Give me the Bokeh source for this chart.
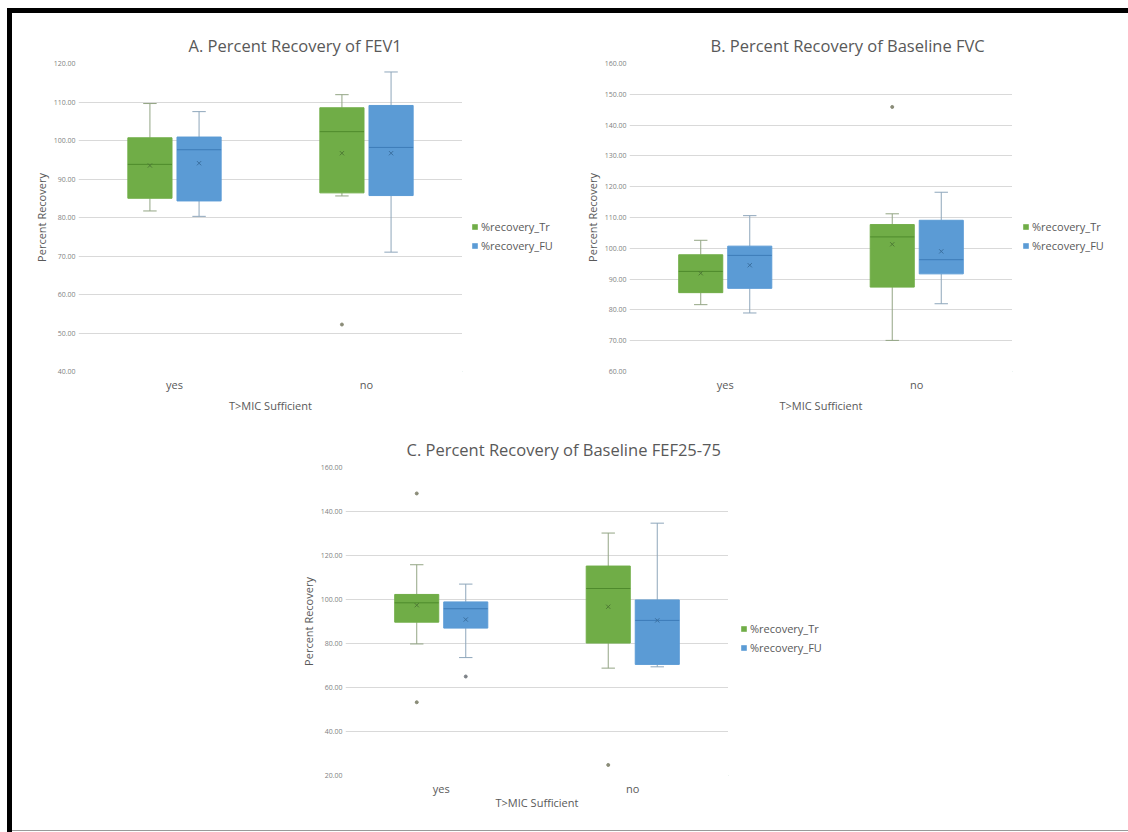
from bokeh.plotting import figure
from bokeh.models import (Range1d, FactorRange, FixedTicker, NumeralTickFormatter,
                          ColumnDataSource, Legend, LegendItem, Div, Spacer)
from bokeh.layouts import column, row
from bokeh.embed import file_html
from bokeh.resources import INLINE

# ---------------- data ----------------
categories = ["yes", "no"]
series_names = ["%recovery_Tr", "%recovery_FU"]
x_axis_title = "T>MIC Sufficient"
y_axis_title = "Percent Recovery"

# Panel A: FEV1
a_title = "A. Percent Recovery of FEV1"
a_ticks = [40, 50, 60, 70, 80, 90, 100, 110, 120]
a_tr_min = [81.7, 85.6]
a_tr_q1 = [85.0, 86.4]
a_tr_med = [93.8, 102.3]
a_tr_q3 = [100.7, 108.5]
a_tr_max = [109.6, 111.9]
a_tr_mean = [93.5, 96.7]
a_tr_out_cat = ["no"]
a_tr_out_val = [52.2]
a_fu_min = [80.3, 71.0]
a_fu_q1 = [84.3, 85.7]
a_fu_med = [97.6, 98.2]
a_fu_q3 = [100.9, 109.1]
a_fu_max = [107.5, 117.8]
a_fu_mean = [94.1, 96.7]
a_fu_out_cat = []
a_fu_out_val = []

# Panel B: FVC
b_title = "B. Percent Recovery of Baseline FVC"
b_ticks = [60, 70, 80, 90, 100, 110, 120, 130, 140, 150, 160]
b_tr_min = [81.7, 70.1]
b_tr_q1 = [85.6, 87.4]
b_tr_med = [92.5, 103.7]
b_tr_q3 = [97.9, 107.7]
b_tr_max = [102.6, 111.2]
b_tr_mean = [91.9, 101.3]
b_tr_out_cat = ["no"]
b_tr_out_val = [145.9]
b_fu_min = [79.0, 82.0]
b_fu_q1 = [87.0, 91.7]
b_fu_med = [97.7, 96.3]
b_fu_q3 = [100.7, 109.1]
b_fu_max = [110.6, 118.2]
b_fu_mean = [94.5, 99.0]
b_fu_out_cat = []
b_fu_out_val = []

# Panel C: FEF25-75
c_title = "C. Percent Recovery of Baseline FEF25-75"
c_ticks = [20, 40, 60, 80, 100, 120, 140, 160]
c_tr_min = [79.8, 68.8]
c_tr_q1 = [89.7, 80.2]
c_tr_med = [98.5, 105.0]
c_tr_q3 = [102.3, 115.2]
c_tr_max = [115.8, 130.2]
c_tr_mean = [97.4, 96.7]
c_tr_out_cat = ["yes", "yes", "no"]
c_tr_out_val = [148.2, 53.3, 24.8]
c_fu_min = [73.6, 69.4]
c_fu_q1 = [87.0, 70.5]
c_fu_med = [95.8, 90.5]
c_fu_q3 = [98.9, 99.8]
c_fu_max = [107.0, 134.7]
c_fu_mean = [90.9, 90.5]
c_fu_out_cat = ["yes"]
c_fu_out_val = [65.0]

# ---------------- style ----------------
FONT = "Open Sans"
TXT = "#595959"
GRID = "#d9d9d9"
STYLE = {
    "Tr": dict(fill="#70AD47", whisk="#93a584", med="#4e8a2c", mean="#4e7a35", out="#8a8c78", off=-0.128),
    "FU": dict(fill="#5B9BD5", whisk="#8ea6bb", med="#3d7cb8", mean="#3a6f9f", out="#7c8186", off=0.128),
}
BOX_W = 0.23
CAP_HALF = 0.035
FRAME_H = 308


def draw_series(p, key, mn, q1, med, q3, mx, mean, out_cat, out_val):
    st = STYLE[key]
    off = st["off"]
    xc = [(c, off) for c in categories]
    xl = [(c, off - BOX_W / 2) for c in categories]
    xr = [(c, off + BOX_W / 2) for c in categories]
    cl = [(c, off - CAP_HALF) for c in categories]
    cr = [(c, off + CAP_HALF) for c in categories]
    src = ColumnDataSource(dict(x=xc, xl=xl, xr=xr, cl=cl, cr=cr, mn=mn, q1=q1,
                                med=med, q3=q3, mx=mx, mean=mean))
    p.segment(x0="x", x1="x", y0="q3", y1="mx", source=src, line_color=st["whisk"], line_width=1)
    p.segment(x0="x", x1="x", y0="mn", y1="q1", source=src, line_color=st["whisk"], line_width=1)
    p.segment(x0="cl", x1="cr", y0="mx", y1="mx", source=src, line_color=st["whisk"], line_width=1)
    p.segment(x0="cl", x1="cr", y0="mn", y1="mn", source=src, line_color=st["whisk"], line_width=1)
    p.vbar(x="x", top="q3", bottom="q1", width=BOX_W, source=src,
           fill_color=st["fill"], line_color=st["fill"], line_width=1)
    p.segment(x0="xl", x1="xr", y0="med", y1="med", source=src, line_color=st["med"], line_width=1)
    p.scatter(x="x", y="mean", source=src, marker="x", size=6, line_color=st["mean"], line_width=1)
    if out_val:
        osrc = ColumnDataSource(dict(x=[(c, off) for c in out_cat], y=out_val))
        p.scatter(x="x", y="y", source=osrc, marker="circle", size=3,
                  fill_color=st["out"], line_color=st["out"])


def make_panel(title, title_offset, y0, y1, ticks, tr, fu, left, frame_w, top, bottom,
               xlabel_standoff):
    p = figure(x_range=FactorRange(*categories), y_range=Range1d(y0, y1),
               width=left + frame_w, height=top + FRAME_H + bottom,
               min_border_left=left, min_border_right=0,
               min_border_top=top, min_border_bottom=bottom,
               output_backend="svg", toolbar_location=None, outline_line_color=None,
               background_fill_color="white", border_fill_color="white")
    p.title.text = title
    p.title.align = "left"
    p.title.offset = title_offset
    p.title.standoff = 14
    p.title.text_font = FONT
    p.title.text_font_size = "16.5px"
    p.title.text_font_style = "normal"
    p.title.text_color = TXT

    p.xgrid.grid_line_color = None
    p.ygrid.grid_line_color = GRID
    p.ygrid.ticker = FixedTicker(ticks=ticks)

    ya = p.yaxis[0]
    ya.ticker = FixedTicker(ticks=ticks)
    ya.formatter = NumeralTickFormatter(format="0.00")
    ya.axis_label = y_axis_title
    ya.axis_label_text_font = FONT
    ya.axis_label_text_font_size = "11px"
    ya.axis_label_text_font_style = "normal"
    ya.axis_label_text_color = TXT
    ya.axis_label_standoff = 2
    ya.major_label_text_font = FONT
    ya.major_label_text_font_size = "7px"
    ya.major_label_text_color = "#7f7f7f"
    ya.major_label_standoff = 3
    ya.major_tick_out = 0
    ya.major_tick_in = 0
    ya.axis_line_color = None
    ya.major_tick_line_color = None
    ya.minor_tick_line_color = None

    xa = p.xaxis[0]
    xa.axis_label = x_axis_title
    xa.axis_label_text_font = FONT
    xa.axis_label_text_font_size = "11px"
    xa.axis_label_text_font_style = "normal"
    xa.axis_label_text_color = TXT
    xa.axis_label_standoff = xlabel_standoff
    xa.major_label_text_font = FONT
    xa.major_label_text_font_size = "11px"
    xa.major_label_text_color = TXT
    xa.major_label_standoff = 5
    xa.major_tick_out = 0
    xa.major_tick_in = 0
    xa.axis_line_color = None
    xa.major_tick_line_color = None
    xa.minor_tick_line_color = None

    draw_series(p, "Tr", *tr)
    draw_series(p, "FU", *fu)
    return p


def make_legend(width, height, leg_x, leg_y):
    # a narrow companion plot that only carries the legend (frame aligned with the panel)
    lf = figure(width=width, height=height, x_range=Range1d(0, 1), y_range=Range1d(0, 1),
                min_border=0, x_axis_location=None, y_axis_location=None,
                output_backend="svg", toolbar_location=None, outline_line_color=None,
                background_fill_color="white", border_fill_color="white")
    lf.xgrid.visible = False
    lf.ygrid.visible = False
    renderers = []
    for key in ("Tr", "FU"):
        # legend proxy: an empty-area bar placed outside the visible range
        proxy = ColumnDataSource(dict(x=[-5.0], top=[-5.0], bottom=[-5.0]))
        renderers.append(lf.vbar(x="x", top="top", bottom="bottom", width=0.0, source=proxy,
                                 fill_color=STYLE[key]["fill"], line_color=None))
    legend = Legend(items=[LegendItem(label=series_names[0], renderers=[renderers[0]]),
                           LegendItem(label=series_names[1], renderers=[renderers[1]])],
                    location=(leg_x, leg_y), orientation="vertical",
                    glyph_width=7, glyph_height=7, label_height=14, label_standoff=3,
                    spacing=4, padding=0, margin=0, border_line_color=None,
                    background_fill_alpha=0,
                    label_text_font=FONT, label_text_font_size="11px",
                    label_text_color=TXT)
    lf.add_layout(legend)
    return lf


pA = make_panel(a_title, 110, 40, 120, a_ticks,
                (a_tr_min, a_tr_q1, a_tr_med, a_tr_q3, a_tr_max, a_tr_mean, a_tr_out_cat, a_tr_out_val),
                (a_fu_min, a_fu_q1, a_fu_med, a_fu_q3, a_fu_max, a_fu_mean, a_fu_out_cat, a_fu_out_val),
                66, 384, 50, 49, 3)
lA = make_legend(98, 407, 9, 118)
pB = make_panel(b_title, 81, 60, 160, b_ticks,
                (b_tr_min, b_tr_q1, b_tr_med, b_tr_q3, b_tr_max, b_tr_mean, b_tr_out_cat, b_tr_out_val),
                (b_fu_min, b_fu_q1, b_fu_med, b_fu_q3, b_fu_max, b_fu_mean, b_fu_out_cat, b_fu_out_val),
                69, 383, 50, 49, 3)
lB = make_legend(116, 407, 10, 118)
pC = make_panel(c_title, 61, 20, 160, c_ticks,
                (c_tr_min, c_tr_q1, c_tr_med, c_tr_q3, c_tr_max, c_tr_mean, c_tr_out_cat, c_tr_out_val),
                (c_fu_min, c_fu_q1, c_fu_med, c_fu_q3, c_fu_max, c_fu_mean, c_fu_out_cat, c_fu_out_val),
                66, 383, 47, 55, -4)
lC = make_legend(132, 410, 12, 120)

top_bar = Div(width=1121, height=5, margin=0, styles={"background-color": "black"})
left_bar = Div(width=5, height=819, margin=0, styles={"background-color": "black"})
bottom_line = Div(width=1116, height=1, margin=0, styles={"background-color": "#9a9a9a"})

content = column(row(pA, lA, pB, lB), row(Spacer(width=267, height=10), pC, lC), bottom_line)
page = column(Spacer(width=10, height=8),
              row(Spacer(width=7, height=5), top_bar),
              row(Spacer(width=7, height=10), left_bar, content))

open("out.html", "w").write(file_html(page, INLINE))
